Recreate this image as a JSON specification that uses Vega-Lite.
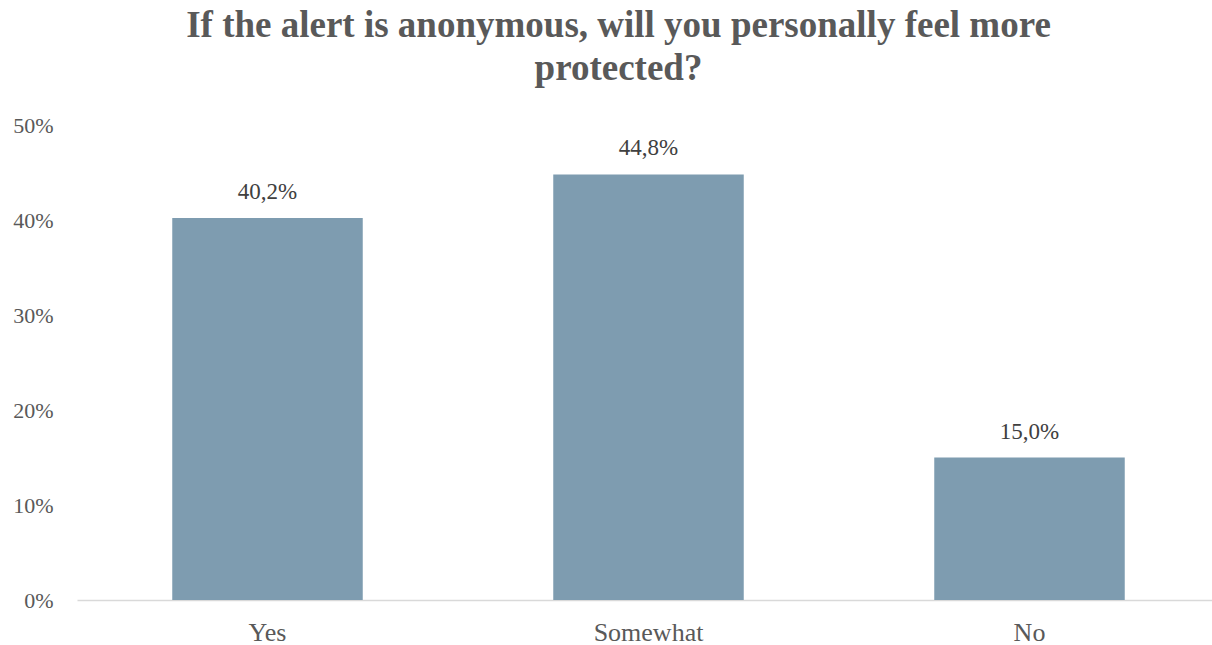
{
  "$schema": "https://vega.github.io/schema/vega-lite/v6.json",
  "autosize": {"type": "none"},
  "padding": {"left": 77, "top": 125, "right": 0, "bottom": 45},
  "width": 1143,
  "height": 475,
  "background": "white",
  "config": {
    "view": {"stroke": null},
    "locale": {"number": {"decimal": ",", "thousands": ".", "grouping": [3], "currency": ["", "€"]}},
    "font": "Liberation Serif"
  },
  "title": {
    "text": ["If the alert is anonymous, will you personally feel more", "protected?"],
    "font": "Liberation Serif",
    "fontSize": 37,
    "fontWeight": "bold",
    "color": "#595959",
    "anchor": "middle",
    "dx": -30,
    "offset": 26,
    "lineHeight": 43
  },
  "data": {
    "values": [
      {"answer": "Yes", "share": 0.402},
      {"answer": "Somewhat", "share": 0.448},
      {"answer": "No", "share": 0.150}
    ]
  },
  "encoding": {
    "x": {
      "field": "answer", "type": "nominal", "sort": null,
      "scale": {"paddingInner": 0.5, "paddingOuter": 0.25},
      "axis": {
        "title": null, "labelAngle": 0, "ticks": false,
        "domainColor": "#D9D9D9", "domainWidth": 1.5,
        "labelFont": "Liberation Serif", "labelFontSize": 26, "labelColor": "#595959",
        "labelPadding": 19
      }
    },
    "y": {
      "field": "share", "type": "quantitative",
      "scale": {"domain": [0, 0.5]},
      "axis": {
        "title": null, "format": ".0%", "values": [0, 0.1, 0.2, 0.3, 0.4, 0.5],
        "labelOverlap": false,
        "grid": false, "domain": false, "ticks": false,
        "labelFont": "Liberation Serif", "labelFontSize": 22, "labelColor": "#595959",
        "labelPadding": 24
      }
    }
  },
  "layer": [
    {"mark": {"type": "bar", "color": "#7E9CB0"}},
    {
      "mark": {"type": "text", "baseline": "alphabetic", "dy": -19, "font": "Liberation Serif", "fontSize": 23, "color": "#404040"},
      "encoding": {"text": {"field": "share", "type": "quantitative", "format": ".1%"}}
    }
  ]
}
